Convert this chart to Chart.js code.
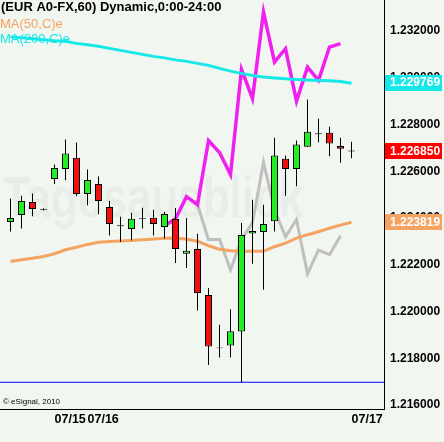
<!DOCTYPE html>
<html><head><meta charset="utf-8">
<script src="https://cdn.jsdelivr.net/npm/chart.js@4/dist/chart.umd.min.js"></script>
<style>html,body{margin:0;padding:0;background:#f2f6f0;overflow:hidden}canvas{display:block}</style>
</head><body>
<canvas id="c" width="444" height="442"></canvas>
<script>
// ---- data (EUR A0-FX, 60 min) ----
const opens  = [1.223830,1.224130,1.224687,1.224390,1.225673,1.226101,1.226573,1.225030,1.225459,1.224473,1.223691,1.223530,1.224004,1.224014,1.223616,1.223959,1.222471,1.222673,1.220701,1.218463,1.218541,1.219141,1.223341,1.223401,1.223856,1.226530,1.226101,1.227044,1.227621,1.227644,1.227079,1.226890];
const highs  = [1.224829,1.224957,1.225043,1.224420,1.226286,1.227357,1.227229,1.226071,1.225771,1.224743,1.224057,1.224229,1.224443,1.224357,1.224271,1.224430,1.224001,1.223329,1.221001,1.219429,1.220101,1.223787,1.224786,1.224571,1.227430,1.226671,1.227314,1.229071,1.228244,1.227901,1.227430,1.227259];
const lows   = [1.223427,1.223556,1.224070,1.224320,1.225459,1.225613,1.224927,1.224541,1.224156,1.223256,1.222973,1.223041,1.223556,1.223256,1.223127,1.222073,1.221859,1.220041,1.217714,1.218027,1.218027,1.216973,1.222043,1.220929,1.223427,1.224957,1.225356,1.227044,1.227241,1.226641,1.226359,1.226556];
const closes = [1.224001,1.224730,1.224387,1.224350,1.226144,1.226757,1.225030,1.225630,1.224730,1.223744,1.223651,1.223971,1.223964,1.223744,1.224173,1.222673,1.222600,1.220787,1.218507,1.218423,1.219159,1.223273,1.223444,1.223744,1.226671,1.226101,1.227143,1.227687,1.227581,1.227186,1.226959,1.226850];
const ma50   = [1.222141,1.222214,1.222279,1.222351,1.222471,1.222643,1.222750,1.222870,1.222964,1.222999,1.223016,1.223041,1.223071,1.223101,1.223136,1.223144,1.223093,1.223007,1.222814,1.222664,1.222600,1.222579,1.222579,1.222579,1.222771,1.222921,1.223136,1.223286,1.223414,1.223564,1.223693,1.223819];
const ma200  = [1.231750,1.231707,1.231664,1.231621,1.231579,1.231557,1.231471,1.231407,1.231343,1.231257,1.231171,1.231086,1.231000,1.230914,1.230850,1.230764,1.230700,1.230614,1.230529,1.230400,1.230284,1.230186,1.230100,1.230027,1.229993,1.229959,1.229929,1.229907,1.229886,1.229873,1.229843,1.229769];
const magentaStart = 14;
const magentaLine = [1.223671,1.223971,1.224914,1.224571,1.227314,1.226800,1.225857,1.230357,1.229114,1.232813,1.230670,1.231244,1.228999,1.230456,1.229886,1.231313,1.231459];
const grayStart = 17;
const grayLine = [1.224571,1.223071,1.223093,1.221786,1.223071,1.223800,1.226384,1.224357,1.223200,1.223929,1.221614,1.222621,1.222429,1.223243];
const supportLevel = 1.216973;
const xTickPositions = [4, 7, 31];
const xTickLabels = ['07/15', '07/16', '07/17'];
const yTickValues = [1.216, 1.218, 1.220, 1.222, 1.224, 1.226, 1.228, 1.230, 1.232];
const headerText = '(EUR A0-FX,60) Dynamic,0:00-24:00';
const ma50Label = 'MA(50,C)e';
const ma200Label = 'MA(200,C)e';
const copyrightText = '\u00A9 eSignal, 2010';
const watermarkText = 'Tagesausblick';

// ---- styles ----
const GREEN = '#22ee22', RED = '#f01010', ORANGE = '#f4a460', CYAN = '#16e8e8', MAGENTA = '#f020f0', GRAY = 'rgba(185,185,185,0.9)';
const FONT = '"Liberation Sans", Arial, sans-serif';

const idx = opens.map((_, i) => i);
const bodyData = idx.map(i => ({x: i, y: [opens[i], closes[i]]}));
const wickData = idx.map(i => ({x: i, y: [lows[i], highs[i]]}));
const pts = (arr, start) => arr.map((v, i) => ({x: start + i, y: v}));

const bgPlugin = {
  id: 'bg',
  beforeDraw(chart) {
    const ctx = chart.ctx;
    ctx.save();
    ctx.fillStyle = '#f2f6f0';
    ctx.fillRect(0, 0, chart.width, chart.height);
    ctx.font = 'bold 58px ' + FONT;
    const w = ctx.measureText(watermarkText).width;
    ctx.translate(3, 217);
    ctx.scale(300 / w, 1);
    ctx.fillStyle = 'rgba(120,135,120,0.075)';
    ctx.textBaseline = 'alphabetic';
    ctx.fillText(watermarkText, 0, 0);
    ctx.restore();
  }
};

const overlayPlugin = {
  id: 'overlay',
  afterDraw(chart) {
    const ctx = chart.ctx;
    const ys = chart.scales.y;
    const area = chart.chartArea;
    ctx.save();
    ctx.textBaseline = 'middle';
    ctx.textAlign = 'left';
    ctx.font = 'bold 13px ' + FONT;
    ctx.fillStyle = '#000';
    ctx.fillText(headerText, 1, 7.5);
    ctx.font = '13px ' + FONT;
    ctx.fillStyle = ORANGE;
    ctx.fillText(ma50Label, 0, 24);
    ctx.fillStyle = CYAN;
    ctx.fillText(ma200Label, 0, 39.5);
    ctx.font = '8px ' + FONT;
    ctx.fillStyle = '#000';
    ctx.fillText(copyrightText, 3, 402);
    // last-value boxes
    const boxes = [
      {v: ma200[ma200.length - 1], c: CYAN},
      {v: closes[closes.length - 1], c: '#ff0000'},
      {v: ma50[ma50.length - 1], c: ORANGE}
    ];
    ctx.font = 'bold 12px ' + FONT;
    boxes.forEach(b => {
      const y = ys.getPixelForValue(b.v);
      ctx.fillStyle = b.c;
      ctx.fillRect(area.right + 1, Math.round(y - 8), chart.width - area.right - 3, 16);
      ctx.fillStyle = '#fff';
      ctx.fillText(b.v.toFixed(6), area.right + 6, y);
    });
    ctx.restore();
  }
};

new Chart(document.getElementById('c'), {
  type: 'bar',
  data: {
    datasets: [
      {type: 'bar', data: bodyData, order: 0, grouped: false, barThickness: 7, inflateAmount: 0,
       backgroundColor: ctx => (closes[ctx.dataIndex] >= opens[ctx.dataIndex] ? GREEN : RED),
       borderColor: '#000', borderWidth: 1, borderSkipped: false},
      {type: 'bar', data: wickData, order: 1, grouped: false, barThickness: 1, inflateAmount: 0,
       backgroundColor: '#000', borderWidth: 0},
      {type: 'line', data: pts(ma50, 0), order: 2, borderColor: ORANGE, borderWidth: 3, pointRadius: 0, tension: 0, fill: false},
      {type: 'line', data: pts(ma200, 0), order: 3, borderColor: CYAN, borderWidth: 3, pointRadius: 0, tension: 0, fill: false},
      {type: 'line', data: pts(magentaLine, magentaStart), order: 4, borderColor: MAGENTA, borderWidth: 3.5, pointRadius: 0, tension: 0, fill: false},
      {type: 'line', data: pts(grayLine, grayStart), order: 5, borderColor: GRAY, borderWidth: 3, pointRadius: 0, tension: 0, fill: false},
      {type: 'line', data: [{x: -2, y: supportLevel}, {x: 40, y: supportLevel}], order: 6, borderColor: '#0000ff', borderWidth: 1.2, pointRadius: 0, fill: false}
    ]
  },
  options: {
    responsive: false,
    animation: false,
    events: [],
    layout: {padding: 0},
    plugins: {legend: {display: false}, tooltip: {enabled: false}},
    scales: {
      x: {
        type: 'linear', offset: false,
        min: -10.5 / 11, max: (384 - 10.5) / 11,
        grid: {display: false, drawTicks: false},
        border: {display: true, color: '#000', width: 1},
        afterBuildTicks: s => { s.ticks = xTickPositions.map(v => ({value: v})); },
        afterFit: s => { s.height = 33; s.paddingLeft = 0; s.paddingRight = 0; },
        ticks: {
          autoSkip: false, maxRotation: 0, align: 'start', padding: 3,
          color: '#000', font: {family: FONT, size: 12.5, weight: 'bold'},
          callback: v => { const k = xTickPositions.indexOf(v); return k >= 0 ? xTickLabels[k] : ''; }
        }
      },
      y: {
        type: 'linear', position: 'right',
        min: 1.215829, max: 1.233326,
        grid: {display: false, drawTicks: false},
        border: {display: true, color: '#000', width: 1},
        afterBuildTicks: s => { s.ticks = yTickValues.map(v => ({value: v})); },
        afterFit: s => { s.width = 60; s.paddingTop = 0; s.paddingBottom = 0; },
        ticks: {
          padding: 6, color: '#000', font: {family: FONT, size: 12, weight: 'bold'},
          callback: v => Number(v).toFixed(6)
        }
      }
    }
  },
  plugins: [bgPlugin, overlayPlugin]
});
</script>
</body></html>
